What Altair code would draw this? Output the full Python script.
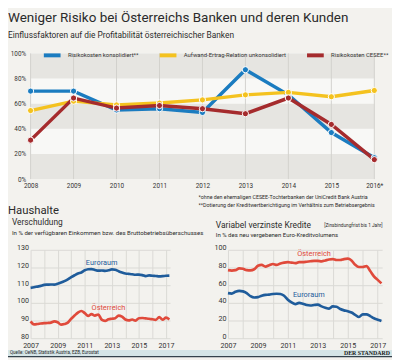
import altair as alt
import pandas as pd

FONT = "Roboto"
BG = "#f3f2ee"

# ---------------- texts ----------------
title = "Weniger Risiko bei Österreichs Banken und deren Kunden"
subtitle = "Einflussfaktoren auf die Profitabilität österreichischer Banken"
foot1 = "*ohne den ehemaligen CESEE-Tochterbanken der UniCredit Bank Austria"
foot2 = "**Dotierung der Kreditwertberichtigung im Verhältnis zum Betriebsergebnis"
section = "Haushalte"
left_title = "Verschuldung"
left_sub = "In % der verfügbaren Einkommen bzw. des Bruttobetriebsüberschusses"
right_title = "Variabel verzinste Kredite"
right_title2 = "[Zinsbindungfrist bis 1 Jahr]"
right_sub = "In % des neu vergebenen Euro-Kreditvolumens"
source = "Quelle: OeNB, Statistik Austria, EZB, Eurostat"
brand = "DER STANDARD"

# ---------------- top chart data ----------------
series_names = ["Risikokosten konsolidiert**", "Aufwand-Ertrag-Relation unkonsolidiert", "Risikokosten CESEE**"]
series_colors = ["#1b7cc0", "#f4c21f", "#a52b2d"]
years = [2008, 2009, 2010, 2011, 2012, 2013, 2014, 2015, 2016]
year_labels = ["2008", "2009", "2010", "2011", "2012", "2013", "2014", "2015", "2016*"]
risk_consol = [70, 70, 55, 56, 53, 87, 67, 37, 17]
cost_income = [54.5, 62, 59, 60.5, 63, 67, 69, 65.5, 70.5]
risk_cesee = [31, 64.5, 56.5, 58.5, 56, 52, 64.5, 43.5, 15.5]
pct_ticks = [0, 20, 40, 60, 80, 100]
pct_labels = ["0%", "20%", "40%", "60%", "80%", "100%"]
band_lo = [0, 40, 80]
band_hi = [20, 60, 100]

# ---------------- bottom charts data (quarterly 2007 Q1 .. 2017 Q2) ----------------
quarters = [2007 + 0.25 * i for i in range(42)]
debt_euro = [108.5, 108.8, 109.2, 109.6, 110.2, 110.3, 110.4, 110.3, 110.8, 111.5, 112.3, 113.3,
             114.5, 115.6, 116.6, 117.2, 118.4, 119.0, 119.1, 118.6, 118.2, 118.3, 118.1, 118.4,
             118.9, 118.7, 117.9, 117.2, 116.6, 116.4, 116.2, 115.9, 116.0, 115.7, 115.1, 115.5,
             115.3, 115.2, 115.0, 115.1, 115.3, 115.4]
debt_at = [89.5, 87.8, 88.0, 88.3, 88.5, 88.6, 88.8, 89.5, 89.0, 87.7, 88.0, 88.8,
           91.0, 92.8, 94.5, 95.4, 94.2, 92.6, 93.6, 92.8, 93.4, 90.5, 89.8, 90.7,
           91.0, 91.3, 92.8, 92.2, 90.6, 90.1, 90.6, 89.9, 91.3, 91.4, 91.2, 91.0,
           90.7, 90.4, 91.9, 90.5, 91.6, 90.6]
var_at = [77, 76.5, 77, 79, 78.5, 77, 76.8, 78, 82, 83, 81, 82.5,
          84, 83, 84.5, 85.5, 86, 85.5, 85, 86, 86, 86.5, 87, 87.5,
          87.5, 87, 88, 89, 89.5, 88.5, 88.5, 89.5, 90, 88, 83, 80.5,
          80.5, 81.5, 76, 70, 66, 62]
var_euro = [51, 50.5, 52.5, 53.5, 53, 51, 47.5, 46, 46.5, 48, 49, 49.3,
            50, 50.3, 50, 48, 43.5, 40.5, 38.5, 40, 39, 37.5, 37, 37.5,
            38, 36, 34.5, 33.5, 36, 35.5, 33, 31.5, 30.5, 29, 26.5, 24,
            27, 27, 25, 22.5, 21, 19.5]
regions = ["Euroraum", "Österreich"]
region_colors = ["#1f5c9b", "#e04a3b"]
bx_ticks = list(range(2007, 2018))
bx_labels = ["2007", "", "2009", "", "2011", "", "2013", "", "2015", "", "2017"]
left_ticks = [80, 90, 100, 110, 120, 130]
right_ticks = [0, 20, 40, 60, 80, 100]
left_lab_year = [2012.25, 2012.75]
left_lab_val = [122.3, 96.8]
right_lab_year = [2012.4, 2012.75]
right_lab_val = [48.5, 95]


def label_expr(vals, labels):
    parts = [f"datum.value == {v} ? '{l}'" for v, l in zip(vals, labels)]
    return " : ".join(parts) + " : ''"


def txt(s, x, y, size, color="#2b2b2b", weight="normal", align="left", baseline="middle", font=FONT):
    return alt.Chart(pd.DataFrame({"t": [s]})).mark_text(
        x=x, y=y, fontSize=size, color=color, fontWeight=weight, align=align,
        baseline=baseline, font=font
    ).encode(text="t:N")


# ---------------- top chart ----------------
W1, H1 = 350, 128
xs = alt.Scale(domain=[2008, 2016], nice=False, zero=False)
ys = alt.Scale(domain=[0, 100], nice=False)
cs = alt.Scale(domain=series_names, range=series_colors)
top_x_axis = alt.Axis(values=years, labelExpr=label_expr(years, year_labels), orient="bottom",
                      title=None, grid=False, domain=False, ticks=False,
                      labelPadding=4, labelFontSize=6.5, labelFlush=False)
top_y_axis = alt.Axis(values=pct_ticks, labelExpr=label_expr(pct_ticks, pct_labels), orient="left",
                      title=None, grid=False, domain=False, ticks=False,
                      labelPadding=5, labelFontSize=6.5)

top_df = pd.DataFrame({
    "year": years * 3,
    "series": [s for s in series_names for _ in years],
    "value": risk_consol + cost_income + risk_cesee,
})

light = alt.Chart(pd.DataFrame({"lo": [0], "hi": [100]})).mark_rect(color="#f8f8f6").encode(
    y=alt.Y("lo:Q", scale=ys, axis=top_y_axis), y2="hi:Q", x=alt.value(0), x2=alt.value(W1))
bands = alt.Chart(pd.DataFrame({"lo": band_lo, "hi": band_hi})).mark_rect(color="#e6e5e1").encode(
    y=alt.Y("lo:Q", scale=ys, axis=top_y_axis), y2="hi:Q", x=alt.value(0), x2=alt.value(W1))
vgrid = alt.Chart(pd.DataFrame({"year": years})).mark_rule(color="#d2d1cd", strokeWidth=1).encode(
    x=alt.X("year:Q", scale=xs, axis=top_x_axis), y=alt.value(0), y2=alt.value(H1))

legend = alt.Legend(
    title=None, orient="none", legendX=11, legendY=-9, direction="horizontal",
    symbolType="stroke", symbolStrokeWidth=4, symbolSize=290, labelFont=FONT,
    labelFontSize=6, labelColor="#333", columnPadding=12, labelOffset=5, padding=0)

lines = alt.Chart(top_df).mark_line(strokeWidth=3.5).encode(
    x=alt.X("year:Q", scale=xs, axis=top_x_axis),
    y=alt.Y("value:Q", scale=ys, axis=top_y_axis),
    color=alt.Color("series:N", scale=cs, legend=legend),
)
points = alt.Chart(top_df).mark_circle(size=40, opacity=1, stroke="white", strokeWidth=1).encode(
    x=alt.X("year:Q", scale=xs, axis=top_x_axis),
    y=alt.Y("value:Q", scale=ys, axis=top_y_axis),
    color=alt.Color("series:N", scale=cs, legend=legend),
)

footer_bg = alt.Chart(pd.DataFrame({"a": [0]})).mark_rect(color="#d5e5e7").encode(
    x=alt.value(-23), x2=alt.value(368), y=alt.value(302), y2=alt.value(308))
footer_line = alt.Chart(pd.DataFrame({"a": [0]})).mark_rect(color="#34424c").encode(
    x=alt.value(-23), x2=alt.value(368), y=alt.value(308), y2=alt.value(309.5))

top = alt.layer(
    light, bands, vgrid, lines, points,
    txt(title, -23, -43, 13.7, baseline="top"),
    txt(subtitle, -23, -23, 8.5, baseline="top"),
    txt(foot1, 171, 146, 5.4),
    txt(foot2, 171, 154.7, 5.4),
    txt(section, -23, 161, 11.5),
    txt(left_title, -19, 171.7, 8.5),
    txt(left_sub, -19, 182.6, 6.2),
    txt(right_title, 188.6, 175, 8.6),
    txt(right_title2, 299, 175.5, 4.8),
    txt(right_sub, 188.6, 185, 6.1),
    footer_bg, footer_line,
    txt(source, -21, 305, 4.6),
    txt(brand, 366, 305, 6, weight="bold", align="right", font="Liberation Serif", color="#1a1a1a"),
).properties(width=W1, height=H1)

# ---------------- bottom charts ----------------
rs = alt.Scale(domain=regions, range=region_colors)


def bottom_chart(vals_euro, vals_at, ydom, yticks, lab_year, lab_val, w):
    df = pd.DataFrame({
        "year": quarters * 2,
        "region": ["Euroraum"] * len(quarters) + ["Österreich"] * len(quarters),
        "value": vals_euro + vals_at,
    })
    bxs = alt.Scale(domain=[2007, 2017.3], nice=False, zero=False)
    bys = alt.Scale(domain=ydom, nice=False, zero=False)
    xa = alt.Axis(values=bx_ticks, labelExpr=label_expr(bx_ticks, bx_labels), orient="bottom",
                  title=None, grid=True, domain=False, ticks=False,
                  labelPadding=3, labelFontSize=7.2, labelFlush=False)
    ya = alt.Axis(values=yticks, format="d", title=None, grid=True, orient="left",
                  domain=False, ticks=False, labelPadding=2, labelFontSize=7.3, labelOffset=-2)
    ln = alt.Chart(df).mark_line(strokeWidth=2.7, interpolate="monotone").encode(
        x=alt.X("year:Q", scale=bxs, axis=xa),
        y=alt.Y("value:Q", scale=bys, axis=ya),
        color=alt.Color("region:N", scale=rs, legend=None),
    )
    lab = alt.Chart(pd.DataFrame({"year": lab_year, "value": lab_val, "region": regions})).mark_text(
        fontSize=7.5, font=FONT, align="center", baseline="middle").encode(
        x=alt.X("year:Q", scale=bxs, axis=xa),
        y=alt.Y("value:Q", scale=bys, axis=ya),
        text="region:N",
        color=alt.Color("region:N", scale=rs, legend=None),
    )
    return alt.layer(ln, lab).properties(width=w, height=90)


left = bottom_chart(debt_euro, debt_at, [80, 130], left_ticks, left_lab_year, left_lab_val, 142)
right = bottom_chart(var_euro, var_at, [0, 100], right_ticks, right_lab_year, right_lab_val, 157)

chart = alt.vconcat(
    top,
    alt.hconcat(left, right, spacing=59, bounds="flush"),
    spacing=72, bounds="flush",
).resolve_scale(color="independent").properties(padding=0, background=BG).configure_view(
    stroke=None).configure_axis(labelFont=FONT, labelColor="#333", gridColor="#dad9d5", gridWidth=1)

chart.save("out.html", embed_options={"renderer": "svg", "actions": False})
